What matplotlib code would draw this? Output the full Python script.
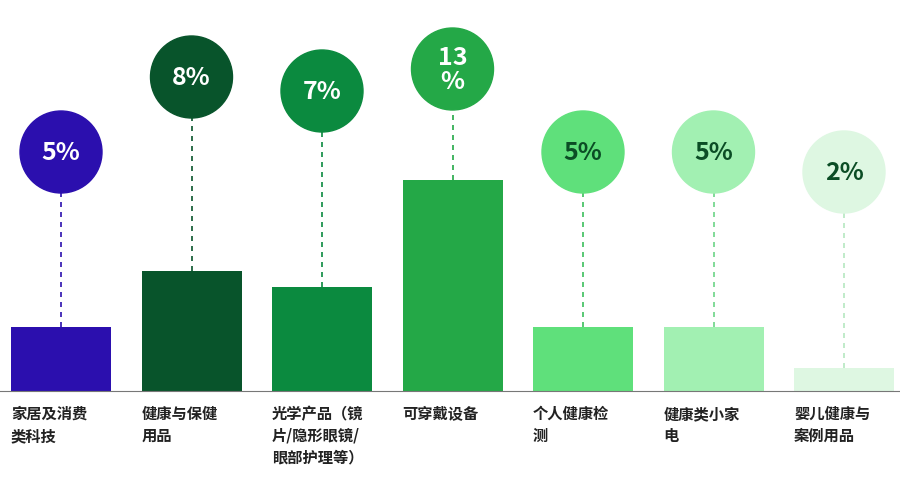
import matplotlib
matplotlib.use("Agg")
import matplotlib.pyplot as plt
from matplotlib.patches import Circle

plt.rcParams['font.family'] = ['Noto Sans CJK SC', 'DejaVu Sans']

categories = ["家居及消费\n类科技", "健康与保健\n用品", "光学产品（镜\n片/隐形眼镜/\n眼部护理等）",
              "可穿戴设备", "个人健康检\n测", "健康类小家\n电", "婴儿健康与\n案例用品"]
pct_labels = ["5%", "8%", "7%", "13\n%", "5%", "5%", "2%"]
bar_values = [0.64, 1.20, 1.04, 2.11, 0.64, 0.64, 0.23]
circle_y = [2.39, 3.14, 3.00, 3.22, 2.39, 2.39, 2.19]
colors = ["#2b0fae", "#08542b", "#0b8a3f", "#24a847", "#5fe07b", "#a2f0b2", "#def7e2"]
text_colors = ["white", "white", "white", "white", "#0b4d25", "#0b4d25", "#0b4d25"]
line_colors = ["#2b0fae", "#08542b", "#0b8a3f", "#24a847", "#3cbf5c", "#6cd486", "#b5e8c0"]

fig = plt.figure(figsize=(9, 4.85), dpi=100)
ax = fig.add_axes([0, 0, 1, 1])
ax.set_xlim(0, 9)
ax.set_ylim(-0.93, 3.92)
ax.axis('off')

xs = [0.61 + 1.305 * i for i in range(len(categories))]
ax.bar(xs, bar_values, width=1.0, color=colors, zorder=2)
ax.axhline(0, xmin=0, xmax=1, color="#777777", lw=0.8, zorder=3)
r = 0.41
for x, v, cy, c, tc, lc, p, cat in zip(xs, bar_values, circle_y, colors, text_colors,
                                       line_colors, pct_labels, categories):
    ax.plot([x, x], [v, cy - r], ls=(0, (3, 3)), color=lc, lw=1.2, zorder=1)
    ax.add_patch(Circle((x, cy), r, color=c, zorder=3))
    ax.text(x, cy, p, ha='center', va='center', color=tc, fontsize=18,
            fontweight='bold', linespacing=1.0, zorder=4)
    ax.text(x - 0.5, -0.14, cat, ha='left', va='top', fontsize=11,
            fontweight='bold', color="#222222", linespacing=1.45)

fig.savefig("out.png", dpi=100)
